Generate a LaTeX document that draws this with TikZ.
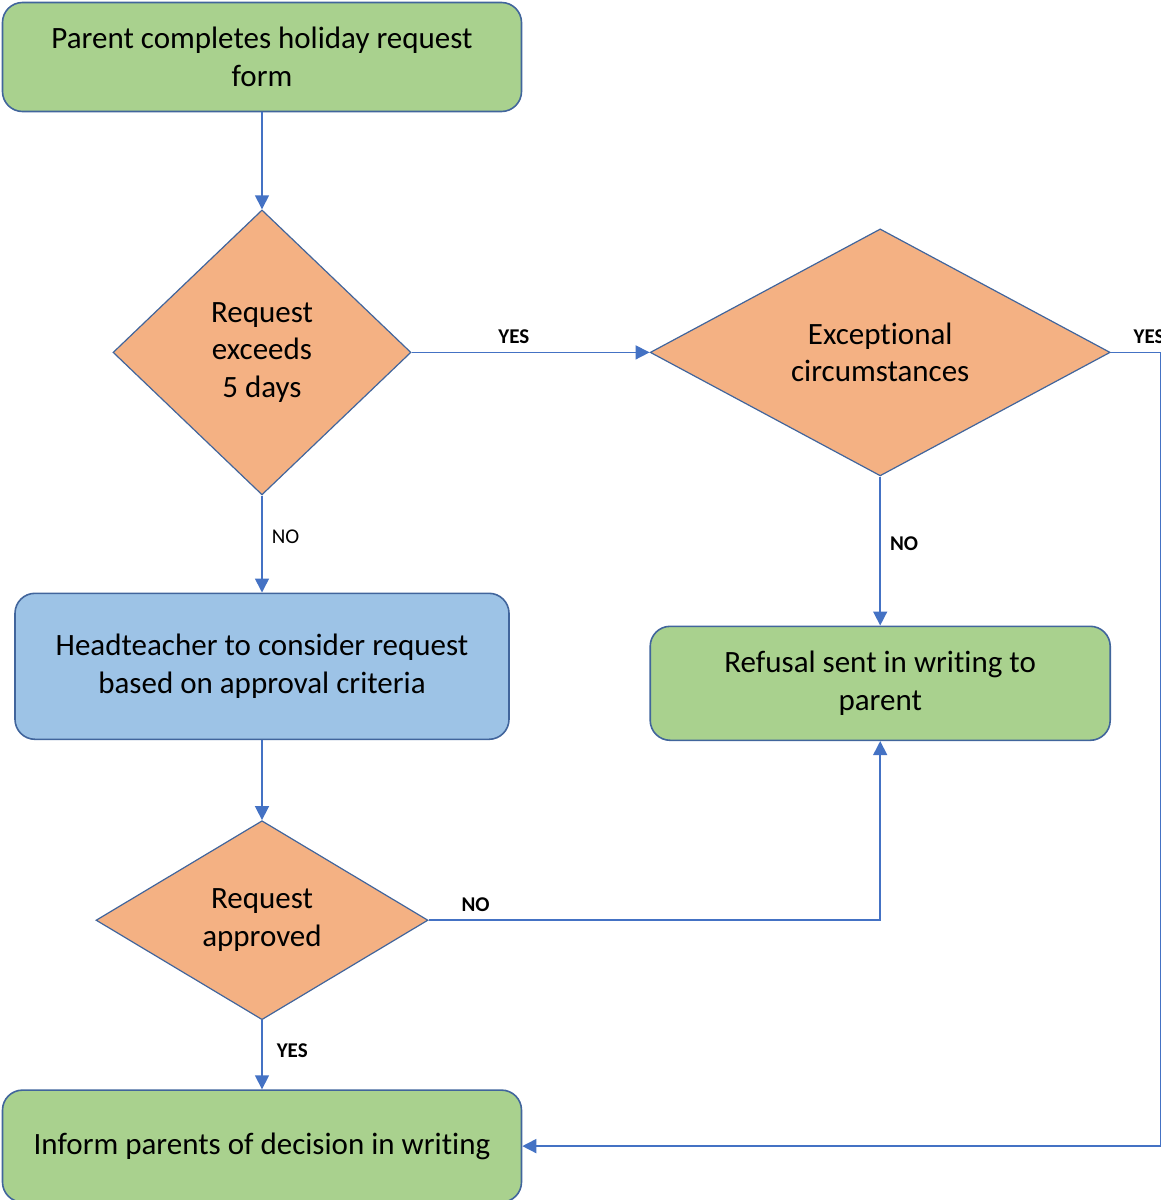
\documentclass[tikz,border=0pt]{standalone}
\usepackage{fontspec}
\setmainfont{Carlito}[Ligatures=NoCommon]
\usepackage{tikz}
\usetikzlibrary{shapes.geometric, arrows.meta, calc, positioning}
\definecolor{leaf}{HTML}{A9D18E}
\definecolor{peach}{HTML}{F4B183}
\definecolor{sky}{HTML}{9DC3E6}
\definecolor{edge}{HTML}{41659C}
\definecolor{link}{HTML}{4472C4}
\tikzstyle{process} = [rectangle, rounded corners=20pt, line width=1.6pt, draw=edge, align=center, inner sep=0pt, font=\fontsize{31}{37.5}\selectfont]
\tikzstyle{decision} = [diamond, line width=1.2pt, draw=edge, fill=peach, align=center, inner sep=0pt, font=\fontsize{31}{37.5}\selectfont]
\tikzstyle{lab} = [font=\fontsize{21}{24}\selectfont\bfseries, text=black, inner sep=0pt]
\tikzstyle{arrow} = [line width=1.6pt, draw=link, -{Triangle[length=14pt,width=14pt]}, link]

\begin{document}
\begin{tikzpicture}[x=1pt, y=1pt, node distance = 98pt, auto]
	\useasboundingbox (0,0) rectangle (1160,-1200);
	\node (Start) [process, fill=leaf, minimum width=519pt, minimum height=109pt] at (262,-57) {Parent completes holiday request\\form};
	\node (Exceeds) [decision, minimum width=298pt, minimum height=285pt, below = 97pt of Start] {Request\\exceeds\\5 days};
	\node (Exceptional) [decision, minimum width=460pt, minimum height=247pt, right = 238pt of Exceeds] {Exceptional\\circumstances};
	\node (Consider) [process, fill=sky, minimum width=494pt, minimum height=146pt, below = 97pt of Exceeds] {Headteacher to consider request\\based on approval criteria};
	\node (Refusal) [process, fill=leaf, minimum width=460pt, minimum height=114pt, below = 149pt of Exceptional] {Refusal sent in writing to\\parent};
	\node (Approved) [decision, minimum width=332pt, minimum height=199pt, below = 80pt of Consider] {Request\\approved};
	\node (Inform) [process, fill=leaf, minimum width=519pt, minimum height=112pt, below = 69pt of Approved] {Inform parents of decision in writing};
	\coordinate (RightTurn) at ($(Exceptional.east)+(50,0)$);
	\draw [arrow] (Start) -- (Exceeds);
	\draw [arrow] (Exceeds) -- node [lab, pos=0.43, above=8pt] (YesExceeds) {YES} (Exceptional);
	\draw [arrow] (Exceeds) -- node [lab, font=\fontsize{21}{24}\selectfont, pos=0.42, right=9pt] (NoExceeds) {NO} (Consider);
	\draw [arrow] (Exceptional) -- node [lab, pos=0.45, right=9pt] (NoExceptional) {NO} (Refusal);
	\draw [arrow] (Consider) -- (Approved);
	\draw [arrow] (Approved) -| node [lab, pos=0.052, above=8pt] (NoApproved) {NO} (Refusal);
	\draw [arrow] (Approved) -- node [lab, pos=0.44, right=14pt] (YesApproved) {YES} (Inform);
	\draw [arrow] (Exceptional.east) -- (RightTurn) node [lab, pos=0.44, anchor=south west, yshift=8pt] (YesExceptional) {YES} |- (Inform.east);
\end{tikzpicture}
\end{document}
